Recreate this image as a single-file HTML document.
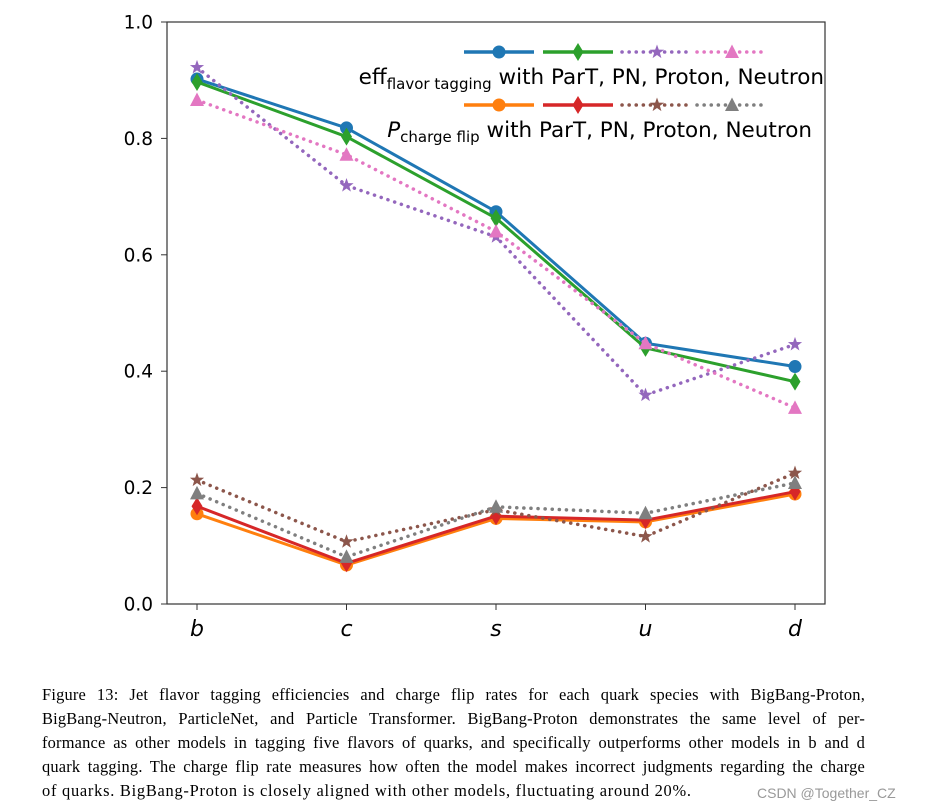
<!DOCTYPE html>
<html><head><meta charset="utf-8"><style>
body{margin:0;background:#fff;width:930px;height:810px;overflow:hidden;position:relative;font-family:"Liberation Sans",sans-serif}
#cap{position:absolute;left:42px;top:683px;width:823px;font-family:"Liberation Serif",serif;font-size:16.4px;line-height:24px;color:#000;letter-spacing:0.2px}
#cap div{text-align:justify;text-align-last:justify;white-space:nowrap}
#cap div.last{text-align-last:left;letter-spacing:0.75px}
#wm{position:absolute;left:757px;top:785px;font-size:14px;color:#999}
</style></head><body>
<svg id="chart" width="930" height="680" style="position:absolute;left:0;top:0"></svg>
<div id="cap">
<div>Figure 13: Jet flavor tagging efficiencies and charge flip rates for each quark species with BigBang-Proton,</div>
<div>BigBang-Neutron, ParticleNet, and Particle Transformer. BigBang-Proton demonstrates the same level of per-</div>
<div>formance as other models in tagging five flavors of quarks, and specifically outperforms other models in b and d</div>
<div>quark tagging. The charge flip rate measures how often the model makes incorrect judgments regarding the charge</div>
<div class="last">of quarks. BigBang-Proton is closely aligned with other models, fluctuating around 20%.</div>
</div>
<div id="wm">CSDN @Together_CZ</div>
<script>
const categories=["b","c","s","u","d"];
const yTicks=[0,0.2,0.4,0.6,0.8,1.0];
const yTickLabels=["0.0","0.2","0.4","0.6","0.8","1.0"];
const effParT=[0.902,0.818,0.674,0.448,0.408];
const effPN=[0.897,0.803,0.663,0.44,0.382];
const effProton=[0.922,0.719,0.631,0.359,0.446];
const effNeutron=[0.866,0.772,0.64,0.448,0.337];
const flipParT=[0.155,0.067,0.147,0.141,0.189];
const flipPN=[0.168,0.07,0.151,0.144,0.193];
const flipProton=[0.213,0.107,0.162,0.116,0.225];
const flipNeutron=[0.19,0.081,0.167,0.156,0.208];
const NS="http://www.w3.org/2000/svg";
const svg=document.getElementById('chart');
const L=167,R=825,T=22,B=604;
const x=i=>L+30+i*(R-L-60)/(categories.length-1);
const y=v=>B-(v-0)/(1-0)*(B-T);
function mk(tag,at,parent){const e=document.createElementNS(NS,tag);for(const k in at)e.setAttribute(k,at[k]);(parent||svg).appendChild(e);return e;}
function marker(g,type,cx,cy,color){
  if(type==='o')return mk('circle',{cx,cy,r:6.5,fill:color},g);
  if(type==='d')return mk('polygon',{points:`${cx},${cy-9} ${cx+5.5},${cy} ${cx},${cy+9} ${cx-5.5},${cy}`,fill:color},g);
  if(type==='^')return mk('polygon',{points:`${cx},${cy-7.5} ${cx+7},${cy+6} ${cx-7},${cy+6}`,fill:color},g);
  let p=[];for(let k=0;k<10;k++){const r=k%2?3:7.5,a=-Math.PI/2+k*Math.PI/5;p.push((cx+r*Math.cos(a)).toFixed(1)+','+(cy+r*Math.sin(a)).toFixed(1));}
  return mk('polygon',{points:p.join(' '),fill:color},g);
}
const series=[
 {name:'eff-part',d:effParT,c:'#1f77b4',m:'o',dot:false},
 {name:'eff-pn',d:effPN,c:'#2ca02c',m:'d',dot:false},
 {name:'eff-proton',d:effProton,c:'#9467bd',m:'*',dot:true},
 {name:'eff-neutron',d:effNeutron,c:'#e377c2',m:'^',dot:true},
 {name:'flip-part',d:flipParT,c:'#ff7f0e',m:'o',dot:false},
 {name:'flip-pn',d:flipPN,c:'#d62728',m:'d',dot:false},
 {name:'flip-proton',d:flipProton,c:'#8c564b',m:'*',dot:true},
 {name:'flip-neutron',d:flipNeutron,c:'#7f7f7f',m:'^',dot:true}];
const frame=mk('rect',{x:L,y:T,width:R-L,height:B-T,fill:'none',stroke:'#333','stroke-width':1.2});

yTicks.forEach((v,i)=>{
  mk('line',{x1:L-6,x2:L,y1:y(v),y2:y(v),stroke:'#333'});
  const t=mk('text',{x:L-14,y:y(v)+6.5,'text-anchor':'end','font-size':18.5,'font-family':'DejaVu Sans,sans-serif'});t.textContent=yTickLabels[i];
  
});
categories.forEach((c,i)=>{
  mk('line',{x1:x(i),x2:x(i),y1:B,y2:B+6,stroke:'#333'});
  const t=mk('text',{x:x(i),y:B+32,'text-anchor':'middle','font-size':22,'font-style':'italic','font-family':'DejaVu Sans,sans-serif'});t.textContent=c;
  
});
series.forEach(s=>{
  const g=mk('g',{});
  
  const pl=mk('polyline',{points:s.d.map((v,i)=>x(i)+','+y(v)).join(' '),fill:'none',stroke:s.c,'stroke-width':3,'stroke-linejoin':'round'},g);
  if(s.dot){pl.setAttribute('stroke-dasharray','0.1 7');pl.setAttribute('stroke-linecap','round');pl.setAttribute('stroke-width',3.5);}
  s.d.forEach((v,i)=>marker(g,s.m,x(i),y(v),s.c));
});
function legendRow(list,ly,label,sub,rest,tx){
  const g=mk('g',{});
  
  const starts=[464,543,622,697];
  list.forEach((s,k)=>{
    const x0=starts[k],x1=x0+70;
    const ln=mk('line',{x1:x0,x2:x1,y1:ly,y2:ly,stroke:s.c,'stroke-width':3.5},g);
    if(s.dot){ln.setAttribute('stroke-dasharray','0.1 7');ln.setAttribute('stroke-linecap','round');}
    marker(g,s.m,(x0+x1)/2,ly,s.c);
  });
  const t=mk('text',{x:tx,y:ly+32,'font-size':21.5,'text-anchor':'end','font-family':'DejaVu Sans,sans-serif'},g);
  t.innerHTML=label+'<tspan font-size="15" dy="5">'+sub+'</tspan><tspan dy="-5"> '+rest+'</tspan>';
}
legendRow(series.slice(0,4),52,'eff','flavor tagging','with ParT, PN, Proton, Neutron',824);
legendRow(series.slice(4),105,'<tspan font-style="italic">P</tspan>','charge flip','with ParT, PN, Proton, Neutron',812);
</script>
</body></html>
